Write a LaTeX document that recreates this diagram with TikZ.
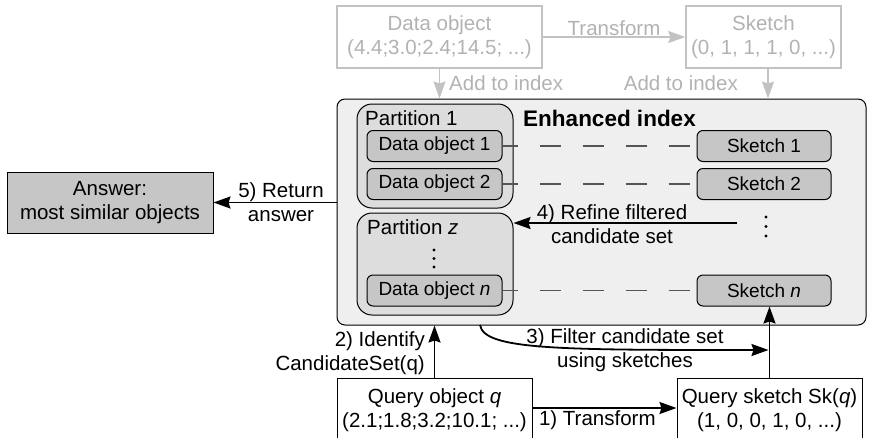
\documentclass[tikz,border=0pt]{standalone}
\usepackage{fontspec}
\setmainfont{Liberation Sans}
\usetikzlibrary{arrows.meta}

\definecolor{idxfill}{HTML}{EFEFEF}
\definecolor{partfill}{HTML}{DDDDDD}
\definecolor{objfill}{HTML}{C6C6C6}
\definecolor{faded}{HTML}{C2C2C2}
\definecolor{fadedtext}{HTML}{B2B2B2}
\definecolor{dashgray}{HTML}{555555}

\begin{document}
\begin{tikzpicture}[x=1pt,y=-1pt,
  font=\fontsize{20.5}{24}\selectfont,
  box/.style={draw, line width=1pt, inner sep=0pt, align=center},
  fadedbox/.style={box, draw=faded, text=fadedtext, line width=1.4pt},
  objbox/.style={box, fill=objfill, rounded corners=6pt, minimum width=135pt, minimum height=31pt,
    font=\fontsize{19}{23}\selectfont},
  partbox/.style={box, fill=partfill, rounded corners=15pt, minimum width=156pt},
  flow/.style={-{Stealth[length=17pt,width=12pt,inset=2pt]}, line width=1.8pt},
  fadedflow/.style={flow, draw=faded, fill=faded, line width=1.4pt},
  link/.style={draw=dashgray, line width=1.2pt, dash pattern=on 21pt off 22pt, dash phase=6pt},
  dotmark/.style={circle, fill=black, inner sep=0pt, minimum size=3.4pt},
  lbl/.style={inner sep=0pt, align=center}
]
\path[use as bounding box] (0,0) rectangle (869,437);
\clip (0,0) rectangle (869,437);

% upstream: data object and its sketch
\node[fadedbox, minimum width=205pt, minimum height=62pt] (dtop) at (439.5,37)
  {Data object\\(4.4;3.0;2.4;14.5; ...)};
\node[fadedbox, minimum width=155pt, minimum height=62pt] (stop) at (763.5,37)
  {Sketch\\(0, 1, 1, 1, 0, ...)};

% the enhanced index
\node[box, fill=idxfill, rounded corners=8pt, minimum width=529pt, minimum height=226pt] (enh) at (601.5,212) {};
\node[partbox, minimum height=104pt] (part1) at (435,156) {};
\node[partbox, minimum height=102pt] (partz) at (435,264) {};
\node[lbl, anchor=west] (p1lbl) at (365,118) {Partition 1};
\node[lbl, anchor=west] (pzlbl) at (367,227) {Partition \textit{z}};
\node[lbl, font=\fontsize{22.5}{27}\selectfont\bfseries] (enhlbl) at (609.5,118) {Enhanced index};

\node[objbox] (do1) at (434.5,146) {Data object 1};
\node[objbox] (do2) at (434.5,184) {Data object 2};
\node[objbox] (don) at (434.5,290.5) {Data object \textit{n}};
\node[objbox, minimum width=134pt] (sk1) at (764,146) {Sketch 1};
\node[objbox, minimum width=134pt] (sk2) at (764,184) {Sketch 2};
\node[objbox, minimum width=134pt] (skn) at (764,290.5) {Sketch \textit{n}};

\node[dotmark] (pzd1) at (434,250) {};
\node[dotmark] (pzd2) at (434,258.5) {};
\node[dotmark] (pzd3) at (434,267) {};
\node[dotmark] (skd1) at (766,217) {};
\node[dotmark] (skd2) at (766,226.5) {};
\node[dotmark] (skd3) at (766,236) {};

\draw[link] (do1.east) -- (sk1.west);
\draw[link] (do2.east) -- (sk2.west);
\draw[link] (don.east) -- (skn.west);

% answer and query side
\node[box, fill=objfill, minimum width=206pt, minimum height=61pt] (answer) at (110,202.5)
  {Answer:\\most similar objects};
\node[box, fill=white, minimum width=195pt, minimum height=64pt] (qobj) at (434.5,410)
  {Query object \textit{q}\\(2.1;1.8;3.2;10.1; ...)};
\node[box, fill=white, minimum width=185pt, minimum height=64pt] (qsk) at (769.5,410)
  {Query sketch Sk(\textit{q})\\(1, 0, 0, 1, 0, ...)};

% upstream flows
\draw[fadedflow] (dtop.east) -- (stop.west)
  node[midway, above=1pt, lbl, text=fadedtext] (trlbl) {Transform};
\draw[fadedflow] (dtop.south) -- (dtop.south |- enh.north);
\draw[fadedflow] ([xshift=4.5pt]stop.south) -- ([xshift=4.5pt]stop.south |- enh.north);
\node[lbl, text=fadedtext, anchor=west] (add1) at (449,83) {Add to index};
\node[lbl, text=fadedtext, anchor=east] (add2) at (738,83) {Add to index};

% query flows
\draw[flow] ([yshift=2pt]qobj.east) -- ([yshift=2pt]qsk.west)
  node[pos=0.45, below=2pt, lbl] (s1lbl) {1) Transform};
\draw[flow] (qobj.north) -- (qobj.north |- enh.south);
\node[lbl, align=right, anchor=east] (s2lbl) at (425,353) {2) Identify\\CandidateSet(q)};

\coordinate (c3s) at (480,325);
\coordinate (c3e) at (768.5,350);
\draw[flow] (c3s) .. controls (484,350) and (560,350) .. (c3e);
\node[lbl] (s3lbl) at (625,350) {3) Filter candidate set\\using sketches};

\draw[flow] (qsk.north) -- (qsk.north |- skn.south);

\coordinate (c4s) at (737,223);
\draw[flow] (c4s) -- (c4s -| partz.east);
\node[lbl] (s4lbl) at (612,224) {4) Refine filtered\\candidate set};

\draw[flow] (answer.east -| enh.west) -- (answer.east);
\node[lbl] (s5lbl) at (281,202.5) {5) Return\\answer};
\end{tikzpicture}
\end{document}
